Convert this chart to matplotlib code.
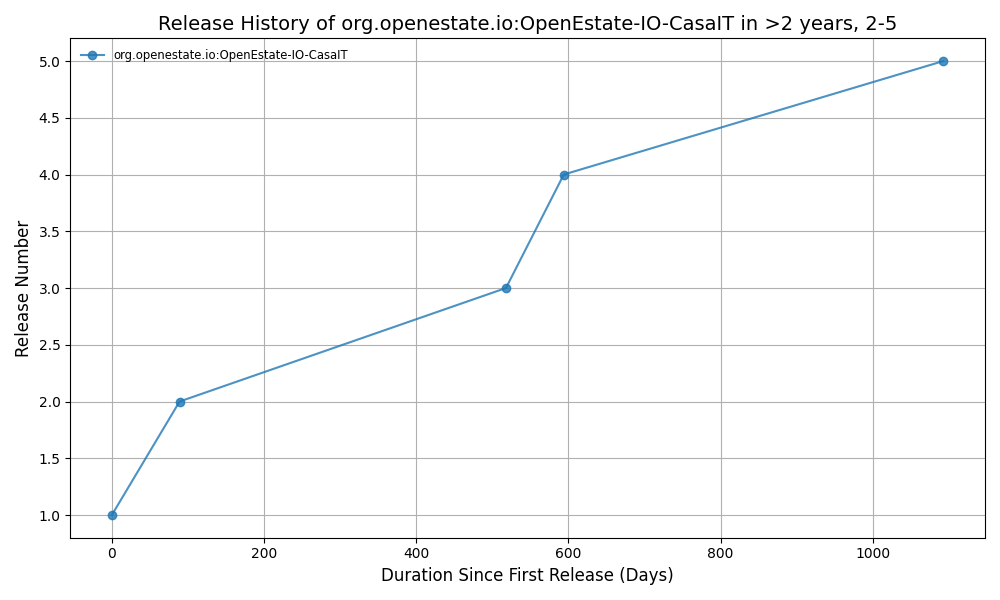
import matplotlib
matplotlib.use("Agg")
import matplotlib.pyplot as plt

days = [0, 89, 518, 594, 1093]
releases = [1, 2, 3, 4, 5]
label = "org.openestate.io:OpenEstate-IO-CasaIT"
title = "Release History of org.openestate.io:OpenEstate-IO-CasaIT in >2 years, 2-5"

fig, ax = plt.subplots(figsize=(10, 6), dpi=100)
ax.plot(days, releases, marker="o", color="#1f77b4", alpha=0.8, label=label)
ax.set_title(title, fontsize=14)
ax.set_xlabel("Duration Since First Release (Days)", fontsize=12)
ax.set_ylabel("Release Number", fontsize=12)
ax.grid(True)
ax.legend(loc="upper left", fontsize="small", frameon=False)
fig.tight_layout()
fig.savefig("out.png")
